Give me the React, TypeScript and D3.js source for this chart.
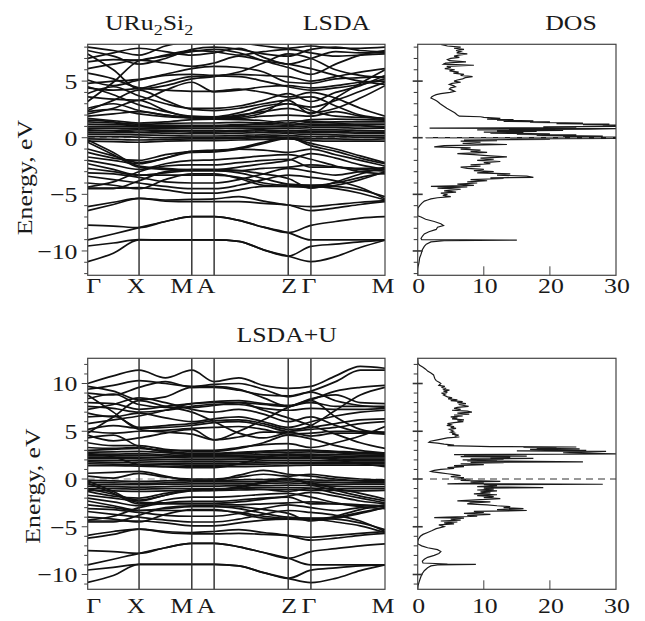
import React from 'react';
import * as d3 from 'd3';

// ---------- k-path ----------
const K_NAMES = ['Γ', 'X', 'M', 'A', 'Z', 'Γ', 'M'];
const K_NODES = [0, 51.3, 104, 126.3, 200.3, 223, 297];
const K_LABEL_SHIFT = [6, -3, -10, -8, 1, -2, -2];
// sample k positions at which every band is tabulated
const K_SAMPLES = [0, 25.6, 51.3, 77.6, 104, 126.3, 151, 175.6, 200.3, 223, 247.7, 272.3, 297];

// ---------- LSDA bands (eV) ----------
const LSDA_LOW = [
  [-10.94, -10.2, -9.03, -9.03, -9.03, -9.03, -9.15, -9.9, -10.45, -10.94, -10.5, -9.7, -9.05],
  [-9.56, -9.3, -9.0, -9.03, -9.03, -9.03, -9.15, -9.9, -10.45, -9.6, -9.4, -9.2, -9.05],
  [-9.03, -8.5, -7.94, -7.4, -6.97, -6.97, -7.3, -7.9, -8.38, -9.03, -9.03, -9.03, -9.03],
  [-7.72, -7.8, -7.94, -7.4, -6.97, -6.97, -7.3, -7.9, -8.38, -7.74, -7.4, -7.1, -6.97],
  [-6.09, -5.7, -5.35, -5.5, -5.45, -5.4, -5.2, -5.6, -5.94, -6.09, -5.9, -5.7, -5.55],
  [-6.44, -5.9, -5.35, -5.6, -5.65, -5.65, -5.65, -5.8, -5.94, -6.44, -6.2, -5.9, -5.65],
];
const LSDA_MID = [
  [-0.2, -1.3, -2.5, -2.7, -2.85, -2.85, -2.6, -2.3, -2.0, -1.4, -1.8, -2.4, -2.8],
  [-0.4, -1.5, -2.6, -2.8, -2.9, -2.9, -2.9, -2.7, -2.6, -2.4, -2.6, -2.8, -2.95],
  [-1.0, -1.6, -2.2, -1.8, -1.2, -1.2, -0.9, -0.4, 0.0, -0.7, -1.2, -1.8, -2.3],
  [-1.7, -2.0, -2.3, -1.8, -1.3, -1.25, -1.0, -0.5, -0.05, -0.5, -1.0, -1.6, -2.2],
  [-2.0, -2.4, -2.8, -2.3, -2.0, -1.95, -1.8, -1.6, -1.5, -1.9, -2.5, -3.0, -3.2],
  [-2.3, -2.8, -3.3, -3.3, -3.3, -3.3, -3.5, -4.0, -4.2, -4.2, -4.3, -4.6, -5.2],
  [-2.7, -3.0, -3.3, -3.1, -2.9, -2.9, -3.1, -3.6, -4.1, -4.2, -4.0, -3.5, -3.1],
  [-3.1, -3.2, -3.5, -3.9, -4.0, -4.0, -3.7, -3.2, -2.7, -3.0, -3.3, -3.0, -2.8],
  [-3.4, -3.7, -4.0, -4.3, -4.5, -4.5, -4.2, -3.7, -3.3, -3.5, -3.8, -4.4, -5.4],
  [-4.0, -4.2, -4.5, -3.7, -3.2, -3.2, -3.6, -4.2, -4.3, -4.3, -4.5, -4.9, -5.5],
  [-4.45, -4.45, -4.4, -4.6, -4.9, -4.9, -4.6, -4.3, -4.3, -4.4, -4.2, -3.7, -3.0],
  [-4.5, -4.5, -3.8, -3.0, -2.8, -2.8, -2.9, -3.2, -3.6, -4.45, -3.9, -3.2, -2.6],
  [-4.35, -3.9, -3.0, -2.5, -2.4, -2.4, -2.2, -2.0, -1.9, -2.6, -2.6, -2.7, -2.7],
  [-1.3, -1.8, -2.0, -1.5, -1.2, -1.1, -1.0, -1.1, -1.3, -1.0, -1.5, -2.0, -2.5],
];
const LSDA_F = [
  [1.7, 1.5, 1.3, 1.4, 1.6, 1.65, 1.6, 1.5, 1.3, 1.6, 1.65, 1.6, 1.55],
  [1.4, 1.3, 1.2, 1.25, 1.3, 1.3, 1.35, 1.3, 1.2, 1.35, 1.4, 1.4, 1.4],
  [1.2, 1.15, 1.1, 1.1, 1.1, 1.1, 1.15, 1.15, 1.1, 1.2, 1.2, 1.2, 1.2],
  [1.0, 1.0, 0.95, 0.95, 0.95, 0.95, 1.0, 1.0, 0.95, 1.05, 1.05, 1.05, 1.0],
  [0.85, 0.85, 0.8, 0.8, 0.8, 0.8, 0.85, 0.85, 0.8, 0.9, 0.9, 0.85, 0.85],
  [0.6, 0.65, 0.7, 0.65, 0.6, 0.6, 0.65, 0.7, 0.6, 0.7, 0.7, 0.65, 0.6],
  [0.45, 0.45, 0.45, 0.4, 0.35, 0.35, 0.4, 0.45, 0.4, 0.45, 0.45, 0.4, 0.4],
  [0.3, 0.3, 0.25, 0.2, 0.15, 0.15, 0.2, 0.25, 0.2, 0.3, 0.25, 0.2, 0.2],
  [0.1, 0.1, 0.05, 0.0, 0.0, 0.0, 0.05, 0.1, 0.05, 0.1, 0.1, 0.05, 0.05],
  [-0.1, -0.15, -0.2, -0.15, -0.1, -0.1, -0.05, 0.0, -0.05, -0.1, -0.1, -0.15, -0.1],
  [-0.3, -0.35, -0.4, -0.3, -0.25, -0.25, -0.2, -0.15, -0.1, -0.25, -0.3, -0.3, -0.3],
  [0.7, 0.6, 0.5, 0.55, 0.5, 0.5, 0.55, 0.6, 0.5, 0.55, 0.55, 0.5, 0.5],
  [1.55, 1.4, 1.0, 0.9, 1.0, 1.0, 1.1, 1.3, 1.5, 1.45, 1.3, 1.1, 0.9],
];
const LSDA_HIGH = [
  [1.9, 2.1, 2.3, 2.0, 1.75, 1.7, 1.8, 2.2, 3.4, 3.6, 2.8, 2.0, 1.7],
  [2.1, 2.6, 3.3, 2.4, 1.8, 1.75, 1.7, 1.9, 2.0, 1.9, 2.3, 1.9, 1.6],
  [2.6, 3.0, 2.4, 2.0, 1.8, 1.8, 2.0, 2.3, 2.6, 2.2, 2.6, 3.5, 4.6],
  [3.6, 3.4, 3.3, 4.2, 4.9, 4.05, 4.2, 4.5, 4.6, 4.4, 4.6, 4.9, 5.0],
  [4.4, 4.2, 4.35, 4.9, 5.4, 5.45, 5.4, 5.0, 4.5, 4.2, 4.4, 4.7, 5.2],
  [4.8, 5.0, 5.15, 5.6, 6.1, 6.3, 6.2, 5.8, 4.9, 4.8, 5.2, 5.3, 5.4],
  [5.1, 4.6, 5.1, 5.5, 5.6, 5.5, 5.6, 5.5, 5.4, 5.0, 5.4, 5.8, 6.1],
  [5.7, 5.2, 4.4, 4.2, 4.1, 4.1, 4.3, 4.0, 3.6, 4.0, 3.5, 2.6, 1.9],
  [6.1, 6.5, 6.85, 6.6, 6.3, 6.6, 7.2, 6.8, 6.5, 6.1, 5.5, 5.0, 4.7],
  [6.7, 6.9, 6.85, 7.3, 7.7, 7.6, 7.3, 7.6, 7.8, 7.5, 7.2, 7.3, 7.4],
  [7.0, 7.5, 7.9, 7.6, 7.3, 7.5, 7.9, 7.1, 6.5, 7.0, 7.6, 7.5, 7.5],
  [7.7, 7.2, 6.5, 7.0, 7.8, 8.0, 7.8, 7.4, 7.2, 7.8, 8.0, 7.7, 7.6],
  [8.0, 7.7, 7.3, 8.1, 8.5, 8.5, 8.4, 8.1, 7.9, 8.1, 7.9, 7.9, 8.0],
  [3.9, 4.5, 3.7, 3.0, 2.6, 2.6, 2.8, 3.3, 3.9, 3.2, 4.0, 4.6, 5.5],
  [4.5, 3.8, 2.9, 2.3, 1.9, 1.85, 2.2, 2.8, 3.0, 2.7, 3.3, 4.1, 4.9],
  [2.3, 2.5, 2.1, 1.85, 1.75, 1.75, 1.9, 2.5, 3.0, 2.4, 1.9, 1.8, 1.7],
  [7.4, 6.0, 4.3, 4.6, 5.2, 5.4, 5.8, 6.6, 7.4, 7.0, 6.0, 5.5, 5.3],
  [3.2, 4.9, 6.8, 7.2, 7.6, 7.8, 7.5, 6.8, 6.2, 5.6, 6.5, 7.3, 7.7],
  [2.4, 3.3, 4.2, 3.3, 2.5, 2.4, 2.6, 3.0, 3.3, 2.1, 3.5, 4.8, 6.0],
];

// ---------- LSDA+U bands (eV) ----------
const LDAU_LOW = [
  [-10.82, -10.1, -8.94, -8.94, -8.94, -8.94, -9.1, -9.8, -10.4, -10.85, -10.4, -9.6, -9.0],
  [-9.53, -9.25, -8.94, -8.94, -8.94, -8.94, -9.1, -9.8, -10.4, -9.55, -9.3, -9.1, -9.0],
  [-9.0, -8.4, -7.78, -7.2, -6.74, -6.74, -7.1, -7.7, -8.3, -9.0, -9.0, -9.0, -9.0],
  [-7.5, -7.6, -7.78, -7.2, -6.74, -6.74, -7.1, -7.7, -8.3, -7.6, -7.3, -7.0, -6.8],
  [-5.9, -5.5, -5.25, -5.5, -5.6, -5.5, -5.3, -5.6, -5.9, -6.1, -5.9, -5.7, -5.5],
  [-6.2, -5.8, -5.25, -5.6, -5.75, -5.75, -5.7, -5.8, -5.95, -6.4, -6.2, -5.9, -5.7],
];
const LDAU_MID = [
  [-0.2, -1.3, -2.45, -2.5, -2.55, -2.55, -2.4, -2.1, -1.8, -1.4, -1.8, -2.3, -2.6],
  [-0.45, -1.5, -2.6, -2.6, -2.6, -2.6, -2.7, -2.6, -2.5, -2.4, -2.6, -2.75, -2.9],
  [-1.0, -1.6, -2.2, -1.7, -1.15, -1.15, -0.8, -0.3, 0.1, -0.6, -1.2, -1.8, -2.3],
  [-1.7, -2.0, -2.3, -1.7, -1.25, -1.2, -0.9, -0.4, 0.0, -0.4, -1.0, -1.5, -2.1],
  [-2.0, -2.4, -2.8, -2.2, -1.9, -1.9, -1.8, -1.6, -1.5, -1.9, -2.5, -2.9, -3.1],
  [-2.3, -2.8, -3.3, -3.3, -3.3, -3.3, -3.5, -3.9, -4.1, -4.1, -4.2, -4.6, -5.3],
  [-2.7, -3.0, -3.3, -3.1, -2.9, -2.9, -3.1, -3.6, -4.0, -4.15, -4.0, -3.5, -3.0],
  [-3.1, -3.2, -3.5, -3.8, -3.9, -3.9, -3.6, -3.1, -2.7, -3.0, -3.3, -3.0, -2.8],
  [-3.4, -3.7, -4.0, -4.3, -4.5, -4.5, -4.2, -3.7, -3.3, -3.5, -3.8, -4.4, -5.5],
  [-4.0, -4.2, -4.5, -3.7, -3.2, -3.2, -3.6, -4.1, -4.2, -4.2, -4.5, -4.9, -5.6],
  [-4.4, -4.4, -4.4, -4.6, -4.9, -4.9, -4.6, -4.3, -4.2, -4.3, -4.1, -3.6, -3.0],
  [-4.5, -4.5, -3.8, -3.0, -2.8, -2.8, -2.9, -3.2, -3.6, -4.4, -3.9, -3.2, -2.7],
  [-4.3, -3.9, -3.0, -2.5, -2.35, -2.35, -2.2, -2.0, -1.9, -2.6, -2.6, -2.7, -2.8],
  [-1.3, -1.8, -2.0, -1.5, -1.15, -1.1, -1.0, -1.1, -1.3, -1.0, -1.5, -2.0, -2.5],
];
const LDAU_OCC_F = [
  [-0.15, -0.2, -0.25, -0.2, -0.15, -0.15, -0.1, -0.05, 0.0, -0.1, -0.15, -0.2, -0.2],
  [-0.35, -0.4, -0.45, -0.4, -0.3, -0.3, -0.3, -0.25, -0.2, -0.3, -0.35, -0.4, -0.4],
  [-0.55, -0.6, -0.6, -0.55, -0.5, -0.5, -0.5, -0.45, -0.4, -0.5, -0.55, -0.55, -0.55],
  [-0.75, -0.8, -0.85, -0.8, -0.75, -0.75, -0.7, -0.7, -0.65, -0.7, -0.75, -0.8, -0.8],
  [-1.0, -1.0, -1.05, -1.0, -1.0, -1.0, -0.95, -0.9, -0.9, -0.95, -1.0, -1.0, -1.0],
  [-1.2, -1.25, -1.3, -1.25, -1.2, -1.2, -1.15, -1.1, -1.1, -1.2, -1.2, -1.25, -1.2],
  [0.6, 0.7, 0.8, 0.3, -0.15, -0.15, 0.4, 0.9, 0.5, 0.3, 0.0, -0.2, -0.3],
  [0.3, 0.1, 0.6, 0.2, 0.0, 0.0, 0.2, 0.5, 0.3, 0.5, 0.2, 0.0, -0.1],
];
const LDAU_UNOCC_F = [
  [3.0, 3.1, 3.2, 2.9, 2.7, 2.7, 2.8, 2.9, 3.0, 3.0, 2.9, 2.8, 2.75],
  [2.8, 2.85, 2.9, 2.75, 2.6, 2.6, 2.65, 2.75, 2.8, 2.85, 2.75, 2.65, 2.6],
  [2.6, 2.6, 2.65, 2.55, 2.45, 2.45, 2.5, 2.55, 2.6, 2.6, 2.55, 2.5, 2.45],
  [2.45, 2.45, 2.5, 2.4, 2.35, 2.35, 2.35, 2.4, 2.45, 2.45, 2.4, 2.35, 2.35],
  [2.3, 2.3, 2.3, 2.25, 2.2, 2.2, 2.2, 2.25, 2.3, 2.3, 2.25, 2.2, 2.2],
  [2.15, 2.15, 2.1, 2.05, 2.0, 2.0, 2.05, 2.1, 2.15, 2.15, 2.1, 2.05, 2.05],
  [1.95, 1.95, 1.9, 1.85, 1.8, 1.8, 1.85, 1.9, 1.95, 1.95, 1.9, 1.9, 1.9],
  [1.8, 1.75, 1.7, 1.65, 1.6, 1.6, 1.65, 1.7, 1.75, 1.75, 1.75, 1.75, 1.75],
  [1.6, 1.55, 1.5, 1.5, 1.45, 1.45, 1.5, 1.55, 1.6, 1.6, 1.6, 1.6, 1.6],
  [1.4, 1.4, 1.35, 1.3, 1.3, 1.3, 1.3, 1.35, 1.4, 1.45, 1.45, 1.45, 1.45],
  [2.7, 2.3, 1.5, 1.3, 1.2, 1.2, 1.6, 2.2, 2.6, 2.3, 2.0, 1.6, 1.3],
];
const LDAU_HIGH = [
  [10.0, 10.8, 11.4, 10.6, 11.4, 10.2, 10.6, 9.8, 9.5, 9.7, 10.8, 11.8, 11.6],
  [9.4, 9.8, 10.3, 10.0, 9.7, 9.9, 10.0, 9.4, 8.6, 9.2, 10.2, 11.4, 11.4],
  [9.0, 8.8, 9.6, 10.2, 9.6, 9.7, 9.4, 8.5, 7.6, 8.3, 9.2, 9.6, 9.8],
  [8.4, 8.9, 7.8, 7.5, 7.5, 7.7, 8.0, 7.8, 7.6, 8.4, 8.8, 8.0, 7.9],
  [8.0, 7.9, 7.3, 7.6, 7.9, 8.1, 8.2, 7.9, 7.7, 8.0, 7.6, 7.6, 7.6],
  [7.6, 7.4, 7.0, 7.2, 7.6, 7.8, 7.8, 7.4, 7.2, 7.4, 7.3, 7.3, 7.4],
  [6.9, 6.5, 6.9, 6.4, 6.0, 6.3, 6.5, 6.0, 5.4, 6.0, 6.6, 7.0, 7.2],
  [6.5, 6.6, 5.4, 5.6, 5.8, 6.1, 6.2, 5.8, 5.2, 5.4, 5.8, 6.2, 6.3],
  [5.2, 5.6, 5.3, 5.4, 5.6, 5.9, 6.0, 5.6, 5.0, 5.2, 5.4, 5.8, 6.0],
  [5.0, 4.8, 5.0, 5.1, 5.3, 5.4, 5.5, 5.2, 4.7, 4.8, 5.0, 5.0, 4.9],
  [4.6, 4.0, 4.3, 4.8, 5.2, 4.1, 4.4, 4.9, 4.9, 4.5, 4.8, 4.8, 4.8],
  [4.3, 4.6, 3.4, 3.0, 3.0, 3.0, 3.3, 3.6, 3.7, 3.3, 3.8, 4.5, 5.5],
  [3.8, 3.5, 3.5, 3.1, 2.9, 2.9, 3.2, 3.8, 4.6, 4.2, 3.5, 3.0, 2.7],
  [3.3, 3.2, 3.3, 2.8, 2.6, 2.6, 2.7, 2.9, 3.0, 3.0, 2.8, 2.7, 2.6],
  [7.3, 7.8, 8.5, 8.0, 7.3, 7.0, 7.3, 6.8, 6.0, 6.5, 5.6, 4.9, 4.7],
  [9.7, 9.2, 8.3, 8.6, 9.6, 9.6, 9.3, 8.8, 8.7, 9.1, 8.2, 7.7, 7.5],
  [5.8, 6.2, 6.6, 7.2, 7.9, 8.0, 8.0, 7.2, 6.4, 5.6, 4.7, 3.8, 3.2],
  [4.8, 6.5, 8.2, 7.6, 7.0, 6.0, 4.8, 4.3, 4.9, 5.6, 7.2, 8.8, 9.6],
  [8.8, 7.0, 5.2, 4.9, 4.7, 4.1, 5.0, 6.2, 7.5, 8.2, 6.5, 5.2, 4.8],
];

// ---------- DOS: [energy eV, states] ----------
const DOS_LSDA = [
  [8.25, 3.5], [8.1, 4.5], [8.0, 6.5], [7.9, 5.5], [7.8, 7.0], [7.7, 5.8], [7.6, 6.5], [7.5, 5.9],
  [7.4, 7.5], [7.3, 6.2], [7.2, 5.5], [7.1, 6.3], [7.0, 5.0], [6.9, 4.5], [6.8, 4.8], [6.7, 7.3],
  [6.6, 4.2], [6.5, 3.9], [6.4, 8.5], [6.3, 4.4], [6.2, 5.0], [6.1, 4.1], [6.0, 5.6], [5.9, 4.8],
  [5.8, 6.2], [5.7, 5.4], [5.6, 7.0], [5.5, 6.5], [5.4, 8.3], [5.3, 7.2], [5.2, 6.8], [5.1, 6.0],
  [5.0, 5.5], [4.9, 6.5], [4.8, 5.2], [4.7, 4.8], [4.6, 5.4], [4.5, 5.7], [4.4, 5.0], [4.3, 4.8],
  [4.2, 5.2], [4.1, 5.6], [4.0, 4.9], [3.9, 3.5], [3.8, 2.8], [3.7, 2.4], [3.6, 2.1], [3.5, 2.0],
  [3.4, 2.4], [3.3, 2.7], [3.2, 3.0], [3.0, 3.4], [2.8, 3.9], [2.6, 4.4], [2.4, 5.0], [2.2, 5.6],
  [2.0, 6.0], [1.9, 6.3], [1.85, 9.5], [1.8, 10.0], [1.7, 12.5], [1.65, 10.5], [1.6, 14.5],
  [1.55, 12.0], [1.5, 17.5], [1.45, 13.0], [1.4, 20.0], [1.35, 17.0], [1.3, 25.0], [1.25, 21.0],
  [1.2, 29.0], [1.15, 25.0], [1.1, 31.0], [1.05, 28.0], [1.0, 31.0], [0.95, 19.0], [0.9, 24.0],
  [0.85, 1.8], [0.8, 31.0], [0.75, 26.0], [0.7, 9.0], [0.65, 22.0], [0.6, 12.0], [0.55, 18.0],
  [0.5, 10.0], [0.45, 16.0], [0.4, 11.0], [0.35, 20.0], [0.3, 15.0], [0.25, 24.0], [0.2, 18.0],
  [0.15, 28.0], [0.1, 22.0], [0.05, 31.0], [0.0, 1.2], [-0.05, 31.0], [-0.1, 14.0], [-0.15, 20.0],
  [-0.2, 7.0], [-0.25, 12.0], [-0.3, 6.5], [-0.4, 9.5], [-0.5, 6.8], [-0.6, 13.5], [-0.7, 4.0],
  [-0.8, 2.5], [-0.9, 8.0], [-1.0, 6.5], [-1.1, 9.5], [-1.2, 8.0], [-1.3, 10.5], [-1.4, 6.0],
  [-1.5, 8.5], [-1.6, 11.0], [-1.7, 13.5], [-1.8, 9.5], [-1.9, 11.5], [-2.0, 9.0], [-2.1, 12.5],
  [-2.2, 10.0], [-2.3, 11.0], [-2.4, 8.0], [-2.5, 9.5], [-2.6, 6.5], [-2.7, 7.5], [-2.8, 10.0],
  [-2.9, 8.5], [-3.0, 11.5], [-3.1, 9.0], [-3.2, 14.0], [-3.3, 12.0], [-3.4, 16.5], [-3.5, 17.5],
  [-3.55, 11.0], [-3.6, 13.0], [-3.7, 8.0], [-3.8, 10.5], [-3.9, 7.5], [-4.0, 9.0], [-4.1, 6.0],
  [-4.2, 8.5], [-4.3, 2.0], [-4.35, 7.5], [-4.45, 3.0], [-4.55, 6.5], [-4.7, 4.0], [-4.8, 5.8],
  [-4.9, 3.5], [-5.0, 4.5], [-5.1, 3.8], [-5.2, 5.0], [-5.3, 3.0], [-5.4, 2.0], [-5.5, 1.5],
  [-5.6, 1.0], [-5.8, 0.6], [-6.0, 0.3], [-6.2, 0.05], [-6.5, 0.0], [-6.9, 0.0], [-7.0, 0.5],
  [-7.2, 1.2], [-7.4, 2.5], [-7.6, 3.5], [-7.75, 3.9], [-7.9, 3.0], [-8.1, 2.8], [-8.3, 1.7],
  [-8.5, 1.0], [-8.7, 0.7], [-8.9, 0.5], [-9.0, 0.6], [-9.05, 15.0], [-9.1, 4.0], [-9.2, 2.0],
  [-9.4, 1.3], [-9.6, 1.0], [-9.9, 0.7], [-10.3, 0.5], [-10.6, 0.3], [-11.0, 0.2], [-11.4, 0.05],
  [-11.6, 0.0], [-12.15, 0.0],
];
const DOS_LDAU = [
  [12.64, 0], [12.1, 0.05], [11.9, 0.3], [11.7, 0.8], [11.5, 1.2], [11.3, 1.5], [11.1, 2.0],
  [10.9, 2.4], [10.7, 2.5], [10.5, 2.6], [10.3, 2.8], [10.1, 3.3], [10.0, 3.5], [9.8, 3.2],
  [9.7, 4.1], [9.6, 3.6], [9.5, 4.3], [9.4, 3.8], [9.3, 4.8], [9.2, 3.9], [9.1, 4.5], [9.0, 3.6],
  [8.9, 4.2], [8.8, 3.9], [8.6, 4.5], [8.5, 5.2], [8.4, 4.6], [8.3, 6.0], [8.2, 5.0], [8.1, 6.8],
  [8.0, 6.0], [7.9, 7.3], [7.8, 6.2], [7.7, 7.0], [7.6, 7.7], [7.5, 6.0], [7.4, 5.5], [7.3, 6.5],
  [7.2, 5.2], [7.1, 7.5], [7.0, 8.2], [6.9, 6.0], [6.8, 7.8], [6.7, 5.5], [6.6, 6.8], [6.5, 5.0],
  [6.4, 6.0], [6.3, 5.2], [6.2, 7.0], [6.1, 6.0], [6.0, 6.9], [5.9, 5.5], [5.8, 4.5], [5.7, 5.0],
  [5.6, 4.4], [5.5, 5.5], [5.4, 5.0], [5.3, 5.8], [5.2, 4.8], [5.0, 5.4], [4.9, 5.0], [4.8, 5.6],
  [4.7, 5.2], [4.6, 6.2], [4.5, 5.6], [4.4, 6.3], [4.3, 4.5], [4.1, 3.0], [3.95, 1.9], [3.85, 1.7],
  [3.75, 3.0], [3.65, 4.0], [3.55, 5.5], [3.5, 4.5], [3.45, 8.0], [3.4, 11.0], [3.35, 24.0],
  [3.3, 16.0], [3.25, 21.0], [3.2, 18.0], [3.15, 24.5], [3.1, 17.0], [3.05, 22.0], [3.0, 25.5],
  [2.95, 15.0], [2.9, 28.5], [2.75, 22.0], [2.62, 31.0], [2.55, 5.5], [2.5, 12.0], [2.45, 7.0],
  [2.4, 16.5], [2.35, 6.5], [2.3, 14.0], [2.2, 11.0], [2.15, 17.5], [2.1, 8.0], [2.05, 13.0],
  [2.0, 6.8], [1.95, 12.0], [1.9, 7.5], [1.8, 25.0], [1.75, 8.0], [1.7, 13.0], [1.6, 6.5],
  [1.5, 10.0], [1.4, 5.5], [1.3, 7.0], [1.2, 4.5], [1.1, 5.5], [1.0, 3.5], [0.9, 2.5], [0.8, 2.0],
  [0.75, 2.3], [0.65, 3.5], [0.55, 4.5], [0.45, 5.5], [0.35, 6.5], [0.25, 5.0], [0.15, 7.0],
  [0.05, 6.0], [-0.05, 8.0], [-0.15, 6.5], [-0.25, 12.5], [-0.3, 8.0], [-0.4, 10.0], [-0.5, 4.5],
  [-0.55, 28.0], [-0.6, 10.0], [-0.7, 12.0], [-0.8, 9.0], [-0.9, 19.0], [-0.95, 10.0], [-1.05, 11.5],
  [-1.15, 9.0], [-1.25, 12.0], [-1.35, 9.5], [-1.45, 11.0], [-1.55, 8.5], [-1.65, 12.0], [-1.75, 9.0],
  [-1.85, 11.5], [-1.95, 10.0], [-2.05, 12.5], [-2.15, 9.5], [-2.3, 6.0], [-2.4, 11.0], [-2.5, 8.0],
  [-2.6, 7.5], [-2.7, 10.5], [-2.8, 12.0], [-2.9, 14.0], [-3.0, 13.0], [-3.1, 16.0], [-3.2, 12.0],
  [-3.3, 16.5], [-3.4, 8.5], [-3.5, 10.0], [-3.6, 7.0], [-3.7, 11.0], [-3.8, 7.5], [-3.9, 9.0],
  [-4.0, 4.5], [-4.05, 2.5], [-4.1, 7.0], [-4.2, 5.0], [-4.3, 6.5], [-4.4, 3.5], [-4.5, 6.0],
  [-4.6, 4.0], [-4.7, 5.5], [-4.8, 3.2], [-5.0, 4.0], [-5.2, 2.8], [-5.4, 2.2], [-5.6, 1.5],
  [-5.8, 0.8], [-6.0, 0.4], [-6.3, 0.1], [-6.6, 0.0], [-6.8, 0.05], [-7.0, 0.6], [-7.2, 1.5],
  [-7.4, 3.0], [-7.6, 3.5], [-7.8, 3.2], [-8.0, 2.5], [-8.2, 1.5], [-8.4, 1.0], [-8.6, 0.7],
  [-8.8, 0.8], [-8.9, 4.5], [-8.95, 8.8], [-9.0, 3.0], [-9.1, 2.0], [-9.3, 1.5], [-9.6, 1.0],
  [-10.0, 0.6], [-10.4, 0.4], [-10.8, 0.2], [-11.2, 0.05], [-11.55, 0.0],
];
const DOS_TICKS = [0, 10, 20, 30];

// ---------- layout ----------
const BX0 = 87.7, BX1 = 385;
const DX0 = 417.7, DX1 = 616;
const FONT = '"Liberation Serif", "Times New Roman", serif';
const FS = 21.5;

type PanelProps = { y0: number; y1: number; eMin: number; eMax: number; };

function T({ x, y, anchor = 'middle', children, size = FS, rotate = 0 }: any) {
  return (
    <text
      transform={`translate(${x},${y}) rotate(${rotate}) scale(1.2,1)`}
      textAnchor={anchor}
      fontFamily={FONT}
      fontSize={size}
      fill="#1a1a1a"
    >
      {children}
    </text>
  );
}

function fmt(v: number) {
  return v < 0 ? '\u2212' + Math.abs(v) : String(v);
}

function BandPanel({ y0, y1, eMin, eMax, bands, id, labelY }: PanelProps & { bands: number[][]; id: string; labelY: number }) {
  const x = d3.scaleLinear().domain([0, 297]).range([BX0, BX1]);
  const y = d3.scaleLinear().domain([eMin, eMax]).range([y1, y0]);
  const line = d3
    .line<number>()
    .x((_, i) => x(K_SAMPLES[i]))
    .y((d) => y(d))
    .curve(d3.curveMonotoneX);
  const ticks = d3.range(Math.ceil(eMin), Math.floor(eMax) + 1);
  return (
    <g>
      <defs>
        <clipPath id={id}>
          <rect x={BX0} y={y0} width={BX1 - BX0} height={y1 - y0} />
        </clipPath>
      </defs>
      <line x1={BX0} x2={BX1} y1={y(0)} y2={y(0)} stroke="#888" strokeWidth={1.2} strokeDasharray="7,5" />
      <g clipPath={`url(#${id})`}>
        {bands.map((b, i) => (
          <path key={i} d={line(b) || ''} fill="none" stroke="#111" strokeWidth={1.7} />
        ))}
      </g>
      {K_NODES.slice(1, -1).map((k, i) => (
        <line key={i} x1={x(k)} x2={x(k)} y1={y0} y2={y1} stroke="#2a2a2a" strokeWidth={1.4} />
      ))}
      <rect x={BX0} y={y0} width={BX1 - BX0} height={y1 - y0} fill="none" stroke="#444" strokeWidth={1.2} />
      {ticks.map((t) => (
        <line key={t} x1={BX0 - (t % 5 === 0 ? 6 : 3.5)} x2={BX0} y1={y(t)} y2={y(t)} stroke="#444" strokeWidth={1} />
      ))}
      {ticks.filter((t) => t % 5 === 0).map((t) => (
        <T key={t} x={77.5} y={y(t) + 7.8} anchor="end">{fmt(t)}</T>
      ))}
      {K_NODES.map((k, i) => (
        <T key={i} x={x(k) + K_LABEL_SHIFT[i]} y={labelY}>{K_NAMES[i]}</T>
      ))}
    </g>
  );
}

function DosPanel({ y0, y1, eMin, eMax, data, id, labelY, dashStart }: PanelProps & { data: number[][]; id: string; labelY: number; dashStart: number }) {
  const x = d3.scaleLinear().domain([0, 30]).range([DX0, DX1]);
  const y = d3.scaleLinear().domain([eMin, eMax]).range([y1, y0]);
  const line = d3
    .line<number[]>()
    .x((d) => x(d[1]))
    .y((d) => y(d[0]));
  const ticks = d3.range(Math.ceil(eMin), Math.floor(eMax) + 1);
  return (
    <g>
      <defs>
        <clipPath id={id}>
          <rect x={DX0} y={y0} width={DX1 - DX0} height={y1 - y0} />
        </clipPath>
      </defs>
      <g clipPath={`url(#${id})`}>
        <path d={line(data) || ''} fill="none" stroke="#1a1a1a" strokeWidth={1.2} strokeLinejoin="miter" />
      </g>
      <line x1={dashStart} x2={DX1} y1={y(0)} y2={y(0)} stroke="#777" strokeWidth={1.3} strokeDasharray="7,5" />
      <rect x={DX0} y={y0} width={DX1 - DX0} height={y1 - y0} fill="none" stroke="#444" strokeWidth={1.2} />
      {ticks.map((t) => (
        <line
          key={t}
          x1={DX0 - (t % 5 === 0 ? 5 : 4)}
          x2={DX0 + (t % 5 === 0 ? 5 : 0)}
          y1={y(t)}
          y2={y(t)}
          stroke="#333"
          strokeWidth={t % 5 === 0 ? 1.6 : 1}
        />
      ))}
      {DOS_TICKS.slice(1, -1).map((t) => (
        <line key={t} x1={x(t)} x2={x(t)} y1={y1} y2={y1 - 9} stroke="#444" strokeWidth={1} />
      ))}
      {DOS_TICKS.map((t) => (
        <T key={t} x={x(t) + 1} y={labelY}>{String(t)}</T>
      ))}
    </g>
  );
}

export default function App() {
  const topBands = [...LSDA_LOW, ...LSDA_MID, ...LSDA_F, ...LSDA_HIGH];
  const botBands = [...LDAU_LOW, ...LDAU_MID, ...LDAU_OCC_F, ...LDAU_UNOCC_F, ...LDAU_HIGH];
  const top = { y0: 44.3, y1: 275.3, eMin: -12.15, eMax: 8.25 };
  const bot = { y0: 358.3, y1: 589.3, eMin: -11.55, eMax: 12.64 };
  return (
    <svg
      width={645}
      height={621}
      viewBox="0 0 645 621"
      style={{ position: 'absolute', left: 0, top: 0, background: '#fff' }}
    >
      <rect x={0} y={0} width={645} height={621} fill="#fff" />
      <text transform="translate(105,29.5) scale(1.2,1)" fontFamily={FONT} fontSize={FS} fill="#1a1a1a">
        URu<tspan dy={5} fontSize={15}>2</tspan>
        <tspan dy={-5}>Si</tspan>
        <tspan dy={5} fontSize={15}>2</tspan>
      </text>
      <T x={336.5} y={29.5}>LSDA</T>
      <T x={571} y={29.5}>DOS</T>
      <T x={286.7} y={341.7}>LSDA+U</T>
      <T x={32} y={177.5} rotate={-90}>Energy, eV</T>
      <T x={40} y={486} rotate={-90}>Energy, eV</T>

      <BandPanel {...top} bands={topBands} id="clipBandTop" labelY={292.7} />
      <DosPanel {...top} data={DOS_LSDA} id="clipDosTop" labelY={292.7} dashStart={426} />
      <BandPanel {...bot} bands={botBands} id="clipBandBot" labelY={613} />
      <DosPanel {...bot} data={DOS_LDAU} id="clipDosBot" labelY={613} dashStart={430} />
    </svg>
  );
}
